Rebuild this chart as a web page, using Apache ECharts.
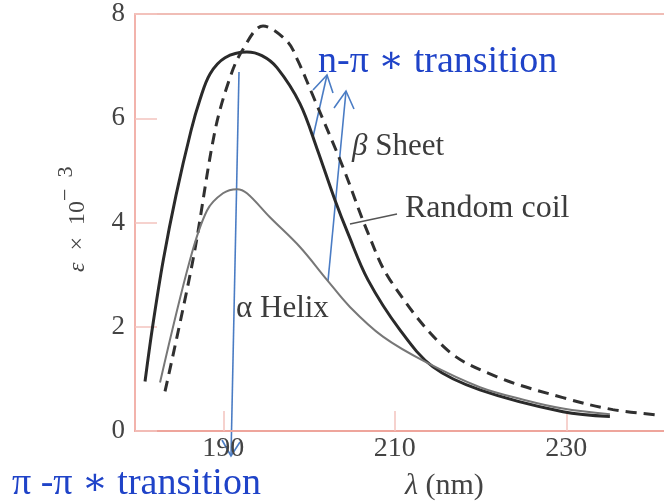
<!DOCTYPE html>
<html>
<head>
<meta charset="utf-8">
<script src="https://cdn.jsdelivr.net/npm/echarts@6/dist/echarts.min.js"></script>
<style>html,body{margin:0;padding:0;background:#fff}#c{width:664px;height:503px}</style>
</head>
<body>
<div id="c"></div>
<script>
// wavelength (nm) and epsilon x 10^-3 values
var coilX  = [180.87,181.75,183.0,184.48,186.23,187.28,188.45,190.2,192.76,194.5,196.26,198.94,200.92,203.02,204.54,206.87,210.6,214.45,219.93,229.61,235.09];
var coilY  = [0.95,2.0,3.28,4.52,5.76,6.36,6.85,7.16,7.27,7.20,6.97,6.28,5.42,4.43,3.79,2.90,1.94,1.23,0.79,0.37,0.28];
var sheetX = [183.2,186.46,189.03,190.78,192.18,194.63,197.43,198.71,200.69,203.96,206.87,209.44,216.08,221.92,229.61,235.44,240.57];
var sheetY = [0.76,3.28,5.76,6.78,7.29,7.77,7.48,7.10,6.34,5.06,3.80,2.90,1.56,1.04,0.64,0.41,0.31];
var helixX = [182.62,186.11,188.1,189.96,191.6,192.76,195.44,198.94,202.09,204.77,208.62,213.75,219.93,225,229.61,235.09];
var helixY = [0.93,3.28,4.23,4.56,4.64,4.56,4.10,3.53,2.90,2.38,1.81,1.31,0.84,0.60,0.43,0.32];
var xTicks = [190,210,230];
var yTicks = [0,2,4,6,8];

function pairs(xs, ys){ return xs.map(function(x,i){ return [x, ys[i]]; }); }

var serif = '"Liberation Serif", "DejaVu Serif", serif';
var blue = '#1f43c8';
var arrowBlue = '#4a7cc4';
var pink = '#eea59c';
var labelColor = '#3c3c3c';

var chart = echarts.init(document.getElementById('c'), null, {renderer:'canvas'});
chart.setOption({
  animation: false,
  backgroundColor: '#ffffff',
  grid: {left: 135, right: 0, top: 14, bottom: 72},
  xAxis: [{
    type: 'value', min: 179.7, max: 241.4,
    axisLine: {show: true, lineStyle: {color: pink, width: 2}},
    axisTick: {show: true, inside: true, length: 20, customValues: xTicks, lineStyle: {color: '#f3c4bf', width: 1.5}},
    axisLabel: {customValues: xTicks, fontFamily: serif, fontSize: 28, color: '#444', margin: 4},
    splitLine: {show: false}
  },{
    type: 'value', position: 'top', min: 179.7, max: 241.4,
    axisLine: {show: true, lineStyle: {color: '#f0bdb6', width: 2}},
    axisTick: {show: false}, axisLabel: {show: false}, splitLine: {show: false}
  }],
  yAxis: {
    type: 'value', min: 0, max: 8, interval: 2,
    axisLine: {show: true, lineStyle: {color: '#f2b3ac', width: 2}},
    axisTick: {show: true, inside: true, length: 22, customValues: yTicks, lineStyle: {color: '#f3c4bf', width: 1.5}},
    axisLabel: {customValues: yTicks, fontFamily: serif, fontSize: 27, color: '#444', margin: 10},
    splitLine: {show: false}
  },
  series: [
    {name: 'Random coil', type: 'line', data: pairs(coilX, coilY), smooth: 0.35, showSymbol: false,
     lineStyle: {color: '#2a2a2a', width: 3}},
    {name: 'β Sheet', type: 'line', data: pairs(sheetX, sheetY), smooth: 0.35, showSymbol: false,
     lineStyle: {color: '#303030', width: 3, type: [11, 7]}},
    {name: 'α Helix', type: 'line', data: pairs(helixX, helixY), smooth: 0.35, showSymbol: false,
     lineStyle: {color: '#777777', width: 2}}
  ],
  graphic: [
    // y-axis name
    {type: 'text', x: 90, y: 272, rotation: Math.PI/2,
     style: {rich: {i: {fontFamily: serif, fontStyle: 'italic', fontSize: 24, fill: '#444'}, n: {fontFamily: serif, fontSize: 24, fill: '#444'}},
             text: '{i|ε}{n|  ×  10}', textAlign: 'left', textVerticalAlign: 'bottom'}},
    {type: 'text', x: 77, y: 201, rotation: Math.PI/2,
     style: {text: '−  3', font: '22px ' + serif, fill: '#444', textAlign: 'left', textVerticalAlign: 'bottom'}},
    // x-axis name
    {type: 'text', x: 405, y: 501,
     style: {rich: {i: {fontFamily: serif, fontStyle: 'italic', fontSize: 30, fill: '#444'}, n: {fontFamily: serif, fontSize: 30, fill: '#444'}},
             text: '{i|λ}{n| (nm)}', textAlign: 'left', textVerticalAlign: 'bottom'}},
    // curve labels
    {type: 'text', x: 352, y: 162,
     style: {rich: {i: {fontFamily: serif, fontStyle: 'italic', fontSize: 31, fill: labelColor}, n: {fontFamily: serif, fontSize: 31, fill: labelColor}},
             text: '{i|β}{n| Sheet}', textAlign: 'left', textVerticalAlign: 'bottom'}},
    {type: 'text', x: 405, y: 225,
     style: {text: 'Random coil', font: '32px ' + serif, fill: labelColor, textAlign: 'left', textVerticalAlign: 'bottom'}},
    {type: 'text', x: 236, y: 324,
     style: {text: 'α Helix', font: '31px ' + serif, fill: labelColor, textAlign: 'left', textVerticalAlign: 'bottom'}},
    {type: 'line', shape: {x1: 350, y1: 224, x2: 397, y2: 214}, style: {stroke: '#555', lineWidth: 1.5}},
    // blue annotations
    {type: 'text', x: 318, y: 81,
     style: {text: 'n-π ∗ transition', font: '38px ' + serif, fill: blue, textAlign: 'left', textVerticalAlign: 'bottom'}},
    {type: 'text', x: 12, y: 503,
     style: {text: 'π -π ∗ transition', font: '38px ' + serif, fill: blue, textAlign: 'left', textVerticalAlign: 'bottom'}},
    {type: 'line', shape: {x1: 239, y1: 72, x2: 231, y2: 456}, style: {stroke: arrowBlue, lineWidth: 1.6}},
    {type: 'polyline', shape: {points: [[222, 440], [231, 456], [240, 442]]}, style: {stroke: arrowBlue, lineWidth: 1.6, fill: null}},
    {type: 'line', shape: {x1: 313, y1: 137, x2: 327, y2: 75}, style: {stroke: arrowBlue, lineWidth: 1.6}},
    {type: 'polyline', shape: {points: [[313, 90], [327, 75], [333, 93]]}, style: {stroke: arrowBlue, lineWidth: 1.6, fill: null}},
    {type: 'line', shape: {x1: 328, y1: 281, x2: 346, y2: 91}, style: {stroke: arrowBlue, lineWidth: 1.6}},
    {type: 'polyline', shape: {points: [[334, 108], [346, 91], [354, 109]]}, style: {stroke: arrowBlue, lineWidth: 1.6, fill: null}}
  ]
});
</script>
</body>
</html>
